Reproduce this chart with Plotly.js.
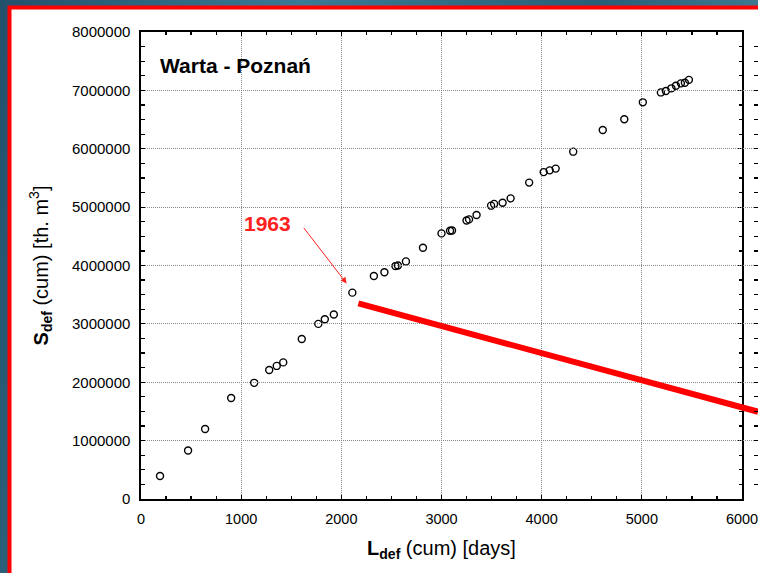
<!DOCTYPE html>
<html>
<head>
<meta charset="utf-8">
<script src="https://cdn.plot.ly/plotly-3.0.1.min.js"></script>
<style>
  html, body { margin: 0; padding: 0; }
  body { width: 758px; height: 573px; overflow: hidden;
         background: linear-gradient(100deg, #23506a 0%, #3b7a93 35%, #2a5d76 70%, #4a8aa2 100%); }
  #chart { width: 758px; height: 573px; }
</style>
</head>
<body>
<div id="chart"></div>
<script>
// Cumulative deficit duration [days]
const ldefCum = [190, 470, 640, 900, 1130, 1280, 1355, 1420, 1605, 1770, 1835, 1925, 2110,
  2325, 2430, 2540, 2565, 2645, 2815, 3000, 3085, 3105, 3250, 3275, 3350, 3495, 3525, 3610,
  3690, 3875, 4020, 4080, 4140, 4315, 4610, 4825, 5010, 5190, 5240, 5295, 5340, 5390, 5430, 5470];
// Cumulative deficit volume [th. m3]
const sdefCum = [395000, 830000, 1200000, 1730000, 1990000, 2210000, 2280000, 2340000, 2740000,
  3000000, 3080000, 3160000, 3535000, 3820000, 3885000, 3990000, 4000000, 4070000, 4305000,
  4550000, 4595000, 4600000, 4770000, 4790000, 4865000, 5025000, 5055000, 5075000, 5150000,
  5420000, 5600000, 5630000, 5660000, 5950000, 6320000, 6505000, 6795000, 6965000, 6990000,
  7035000, 7080000, 7120000, 7130000, 7180000];
// Red line
const lineX = [2170, 6160];
const lineY = [3350000, 1495000];
// Annotation
const markYear = "1963";
const markX = 2053, markY = 3693000;
const xTicks = [0, 1000, 2000, 3000, 4000, 5000, 6000];
const yTicks = [0, 1000000, 2000000, 3000000, 4000000, 5000000, 6000000, 7000000, 8000000];

const font = "'Liberation Sans', Arial, sans-serif";
const L = 141, R = 742, T = 32, B = 499, W = 758, H = 573;
const plotW = W - L;              // full plotting width up to the page edge
const mainFrac = (R - L) / plotW;  // fraction used by the framed axes
const px = v => (v - L) / plotW;
const py = v => (B - v) / (B - T);

const traces = [
  {
    x: ldefCum, y: sdefCum, type: 'scatter', mode: 'markers', xaxis: 'x', yaxis: 'y',
    marker: { symbol: 'circle-open', size: 7, color: '#000', line: { width: 1.4, color: '#000' } },
    hoverinfo: 'x+y'
  },
  {
    // same data scale, on a hidden axis whose area reaches the page edge so the line is not cut
    x: lineX, y: lineY, type: 'scatter', mode: 'lines', xaxis: 'x2', yaxis: 'y',
    line: { color: '#ff0000', width: 6 }, hoverinfo: 'skip'
  }
];

const axisCommon = {
  showline: true, linecolor: '#000', linewidth: 1.6, mirror: 'allticks',
  ticks: 'inside', ticklen: 4, tickwidth: 1.2, tickcolor: '#000',
  showgrid: true, gridcolor: '#8a8a8a', gridwidth: 1, griddash: '1px,1px',
  zeroline: false, ticklabeloverflow: 'allow',
  minor: { ticks: 'inside', ticklen: 3, tickwidth: 1.2, tickcolor: '#000', showgrid: false }
};

const layout = {
  width: W, height: H,
  margin: { l: L, r: 0, t: T, b: H - B, pad: 0 },
  paper_bgcolor: 'rgba(0,0,0,0)', plot_bgcolor: 'rgba(0,0,0,0)',
  showlegend: false,
  title: {
    text: '<b>Warta - Poznań</b>', xref: 'container', yref: 'container',
    x: 160 / W, xanchor: 'left', y: 1 - 66 / H, yanchor: 'middle',
    font: { family: font, size: 21, color: '#000' }
  },
  xaxis: Object.assign({}, axisCommon, {
    domain: [0, mainFrac], anchor: 'y',
    range: [0, 6000], tickmode: 'array', tickvals: xTicks, ticktext: xTicks.map(String),
    tickfont: { family: font, size: 14.5, color: '#000' }, ticklabelstandoff: 6,
    minor: Object.assign({}, axisCommon.minor, { dtick: 250, tick0: 0 }),
    title: { text: '<b>L</b><sub><b>def</b></sub> (cum) [days]', standoff: 15,
             font: { family: font, size: 20, color: '#000' } }
  }),
  xaxis2: {
    domain: [0, 1], anchor: 'y', range: [0, 6000 / mainFrac], visible: false,
    showgrid: false, zeroline: false
  },
  yaxis: Object.assign({}, axisCommon, {
    range: [0, 8000000], tickmode: 'array', tickvals: yTicks, ticktext: yTicks.map(String),
    tickfont: { family: font, size: 15, color: '#000' }, ticklabelstandoff: 6,
    minor: Object.assign({}, axisCommon.minor, { dtick: 250000, tick0: 0 }),
    title: { text: '<b>S</b><sub><b>def</b></sub> (cum) [th. m<sup>3</sup>]', standoff: 18,
             font: { family: font, size: 20, color: '#000' } }
  }),
  shapes: [
    { type: 'rect', xref: 'paper', yref: 'paper', layer: 'below',
      x0: px(9.5), x1: px(765), y0: py(7.5), y1: py(580),
      fillcolor: '#ffffff', line: { color: '#ff0000', width: 4 } }
  ],
  annotations: [
    { x: markX, y: markY, xref: 'x', yref: 'y', text: '', showarrow: true,
      ax: -44, ay: -57, arrowhead: 2, arrowsize: 1.2, arrowwidth: 1, arrowcolor: '#ff2020' },
    { x: 1262, y: 4720000, xref: 'x', yref: 'y', text: '<b>' + markYear + '</b>', showarrow: false,
      font: { family: font, size: 21, color: '#ff2020' } }
  ]
};

Plotly.newPlot('chart', traces, layout, { displayModeBar: false, staticPlot: true });
</script>
</body>
</html>
